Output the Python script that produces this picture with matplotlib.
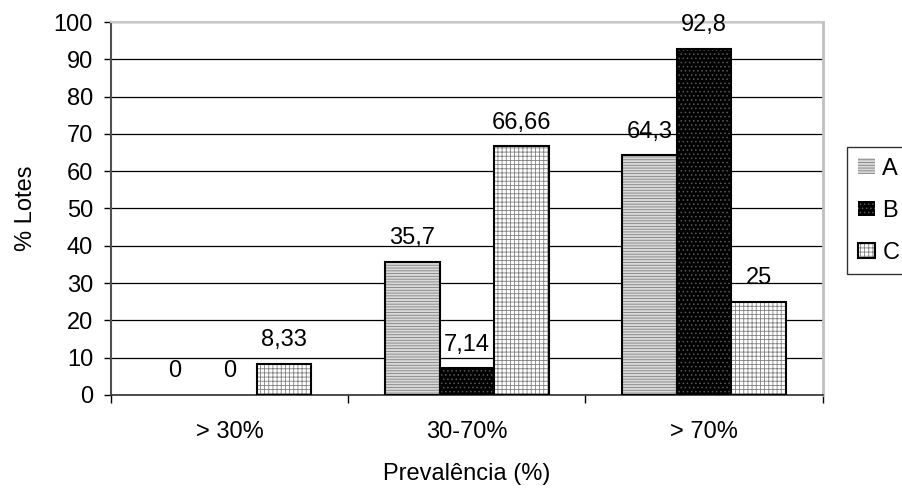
import numpy as np
import matplotlib.pyplot as plt
from matplotlib.colors import to_rgba
from matplotlib.ticker import FixedLocator, NullFormatter

plt.rcParams['font.family'] = ['Liberation Sans', 'DejaVu Sans']
plt.rcParams['hatch.linewidth'] = 0.6

categories = ['> 30%', '30-70%', '> 70%']
series_names = ['A', 'B', 'C']
values_a = [0, 35.7, 64.3]
values_b = [0, 7.14, 92.8]
values_c = [8.33, 66.66, 25]
labels_a = ['0', '35,7', '64,3']
labels_b = ['0', '7,14', '92,8']
labels_c = ['8,33', '66,66', '25']

styles = [
    dict(facecolor='#d9d9d9', hatch='------', hatch_color='#808080'),
    dict(facecolor='#000000', hatch='....', hatch_color='#5a5a5a'),
    dict(facecolor='#ffffff', hatch='++++', hatch_color='#808080'),
]

fs = 17

fig = plt.figure(figsize=(9.03, 4.9), dpi=100)
ax = fig.add_axes([0.123, 0.194, 0.788, 0.761])

x = np.arange(len(categories))
width = 0.23
all_values = [values_a, values_b, values_c]
all_labels = [labels_a, labels_b, labels_c]

bars = []
for i, (vals, labs, st) in enumerate(zip(all_values, all_labels, styles)):
    pos = x + (i - 1) * width
    b = ax.bar(pos, vals, width, facecolor=st['facecolor'], edgecolor='black',
               linewidth=1.5, hatch=st['hatch'], label=series_names[i], zorder=3)
    for patch in b:
        patch._hatch_color = to_rgba(st['hatch_color'])
        # zero-height bars leave no outline on the baseline
        if patch.get_height() == 0:
            patch.set_linewidth(0)
    bars.append(b)
    for p, v, t in zip(pos, vals, labs):
        ax.annotate(t, (p, v), xytext=(0, 9), textcoords='offset points',
                    ha='center', va='bottom', fontsize=fs, zorder=4)

ax.set_xlim(-0.5, 2.5)
ax.set_ylim(0, 100)
ax.set_yticks(np.arange(0, 101, 10))
ax.yaxis.grid(True, color='black', linewidth=0.9, zorder=0)
ax.set_axisbelow(True)

ax.set_xticks(x)
ax.set_xticklabels(categories)
ax.tick_params(axis='x', which='major', length=0, pad=19, labelsize=fs)
ax.xaxis.set_minor_locator(FixedLocator([-0.5, 0.5, 1.5, 2.5]))
ax.xaxis.set_minor_formatter(NullFormatter())
ax.tick_params(axis='x', which='minor', length=6, width=1, color='black')
ax.tick_params(axis='y', length=5, width=1, labelsize=fs, pad=8)

ax.spines['left'].set_color('#505050')
ax.spines['left'].set_linewidth(1.5)
ax.spines['bottom'].set_color('#303030')
ax.spines['bottom'].set_linewidth(1.2)
ax.spines['right'].set_color('#c0c0c0')
ax.spines['right'].set_linewidth(2)
ax.spines['top'].set_color('#c8c8c8')
ax.spines['top'].set_linewidth(1.5)

ax.set_ylabel('% Lotes', fontsize=fs, labelpad=12)
ax.set_xlabel('Prevalência (%)', fontsize=fs, labelpad=14)

leg = fig.legend(handles=bars, labels=series_names, loc='upper left',
                 bbox_to_anchor=(0.938, 0.70), frameon=True, fancybox=False,
                 edgecolor='black', fontsize=fs, handlelength=0.75,
                 handleheight=0.65, handletextpad=0.3, labelspacing=0.85,
                 borderpad=0.45, borderaxespad=0)
leg.get_frame().set_linewidth(1)

fig.savefig('out.png', dpi=100)
